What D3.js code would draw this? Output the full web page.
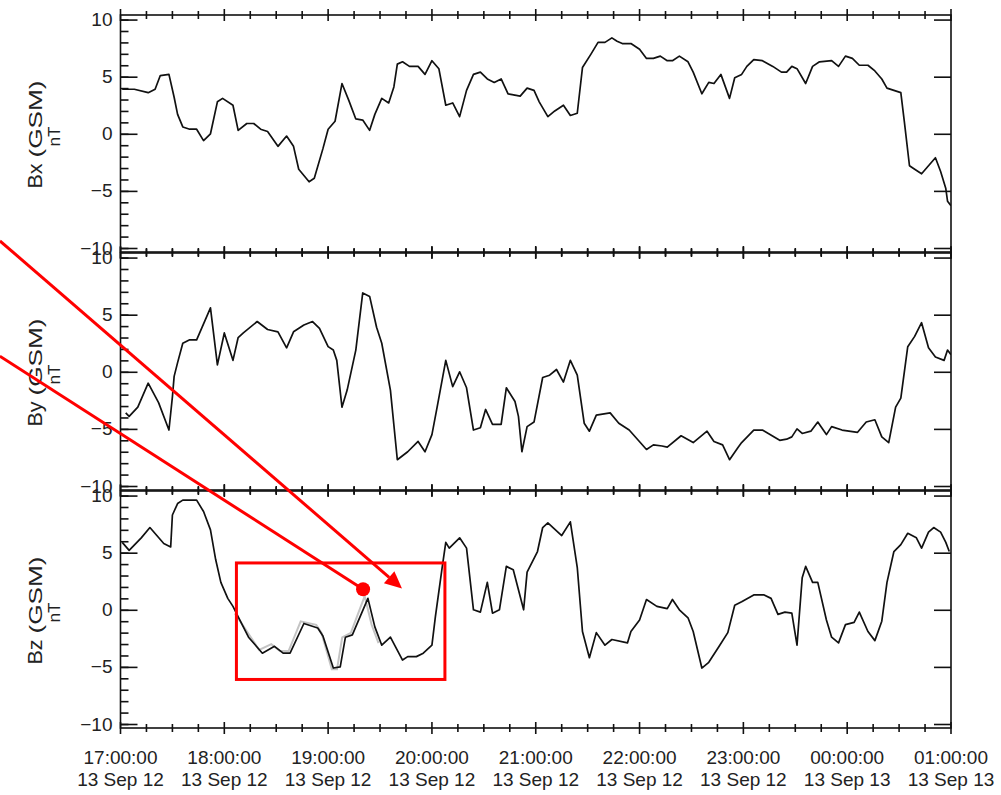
<!DOCTYPE html>
<html>
<head>
<meta charset="utf-8">
<script src="https://cdn.jsdelivr.net/npm/d3@7/dist/d3.min.js"></script>
<style>
  body { margin: 0; background: #fff; }
  svg { display: block; }
  text { font-family: "Liberation Sans", Arial, sans-serif; fill: #222; }
</style>
</head>
<body>
<div id="chart"></div>
<script>
// Minutes after 17:00:00 13 Sep 12, value in nT
const bx = [[1,3.9],[8,3.9],[16,3.6],[20,3.9],[23,5.1],[28,5.2],[31,3.2],[33,1.7],[36,0.6],[40,0.4],[44,0.4],[48,-0.6],[52,0.0],[56,2.8],[59,3.1],[65,2.5],[68,0.3],[73,0.9],[77,0.9],[81,0.4],[85,0.2],[91,-1.1],[96,-0.2],[100,-1.1],[103,-3.1],[109,-4.2],[112,-3.9],[117,-1.3],[120,0.4],[124,1.1],[128,4.4],[132,2.9],[136,1.3],[140,1.2],[144,0.3],[147,1.7],[151,3.1],[155,2.7],[158,4.1],[160,6.1],[163,6.3],[167,5.9],[172,5.9],[176,5.2],[180,6.4],[184,5.7],[188,2.5],[192,2.7],[196,1.5],[200,3.8],[204,5.2],[208,5.4],[212,4.8],[216,4.5],[220,4.8],[224,3.5],[231,3.3],[235,4.0],[239,3.8],[242,2.8],[247,1.5],[251,2.0],[256,2.5],[260,1.6],[264,1.8],[267,5.8],[272,7.0],[276,8.0],[280,8.0],[284,8.4],[287,8.1],[290,7.9],[295,7.9],[300,7.4],[304,6.6],[308,6.6],[312,6.8],[316,6.4],[319,6.4],[323,6.8],[328,6.3],[331,5.4],[336,3.5],[340,4.5],[343,4.4],[347,5.2],[352,3.1],[355,4.9],[359,5.2],[362,5.9],[366,6.5],[371,6.4],[377,5.9],[382,5.4],[385,5.4],[388,5.9],[391,5.7],[396,4.4],[400,5.9],[404,6.3],[411,6.4],[415,5.9],[419,6.8],[423,6.6],[427,6.0],[432,6.0],[436,5.5],[440,4.8],[443,4.0],[447,3.8],[451,3.6],[453,1.1],[456,-2.8],[459,-3.1],[463,-3.5],[467,-2.8],[471,-2.1],[474,-3.3],[477,-4.8],[478,-5.9],[480,-6.3]];

const by = [[3,-3.6],[5,-3.9],[10,-3.1],[16,-1.0],[22,-2.7],[28,-5.1],[30,-2.2],[31,-0.4],[33,0.8],[36,2.5],[40,2.8],[44,2.8],[52,5.6],[56,0.6],[60,3.4],[65,1.0],[68,3.0],[71,3.4],[79,4.4],[85,3.7],[91,3.5],[96,2.1],[100,3.5],[106,4.1],[111,4.4],[115,3.8],[120,2.2],[123,1.9],[125,1.0],[128,-3.1],[131,-1.6],[136,1.9],[140,6.9],[144,6.6],[148,3.9],[151,2.5],[156,-1.6],[160,-7.7],[166,-7.0],[172,-6.1],[176,-7.0],[180,-5.5],[183,-3.1],[188,1.0],[192,-1.3],[196,0.0],[200,-1.4],[204,-5.1],[208,-4.9],[211,-3.3],[215,-4.6],[220,-4.6],[223,-1.4],[228,-2.6],[230,-3.9],[232,-7.0],[235,-4.8],[239,-4.4],[244,-0.5],[248,-0.3],[252,0.2],[256,-0.9],[260,1.0],[264,-0.3],[268,-4.5],[271,-5.2],[275,-3.8],[283,-3.6],[288,-4.5],[294,-5.1],[304,-6.8],[308,-6.4],[313,-6.5],[316,-6.6],[324,-5.6],[331,-6.2],[339,-5.2],[343,-6.1],[348,-6.4],[352,-7.7],[357,-6.6],[359,-6.2],[366,-5.1],[371,-5.1],[381,-6.0],[385,-5.9],[388,-5.7],[391,-5.0],[394,-5.4],[399,-5.2],[403,-4.4],[408,-5.5],[411,-4.8],[417,-5.1],[426,-5.3],[431,-4.4],[436,-4.2],[440,-5.7],[444,-6.2],[448,-3.1],[451,-2.3],[455,2.2],[459,3.1],[463,4.3],[467,2.1],[471,1.3],[476,1.0],[478,1.9],[480,1.5]];

const bz = [[1,5.9],[5,5.2],[12,6.3],[17,7.2],[21,6.5],[25,5.8],[29,5.5],[30,8.3],[33,9.3],[36,9.6],[44,9.6],[48,8.6],[52,7.0],[55,4.4],[58,2.4],[62,1.0],[65,0.3],[69,-0.9],[74,-2.4],[82,-3.8],[89,-3.2],[94,-3.8],[98,-3.8],[106,-1.2],[114,-1.6],[117,-2.3],[123,-5.1],[127,-5.0],[130,-2.4],[134,-2.2],[143,1.0],[147,-1.5],[151,-3.1],[156,-2.4],[163,-4.4],[166,-4.1],[171,-4.1],[175,-3.8],[180,-3.1],[182,-0.6],[186,3.8],[188,5.9],[190,5.4],[196,6.3],[200,5.4],[204,0.0],[208,-0.2],[212,2.4],[215,-0.3],[219,0.0],[223,3.8],[227,3.5],[233,0.0],[235,3.3],[241,5.1],[244,7.2],[247,7.6],[255,6.5],[260,7.7],[264,3.7],[267,-1.9],[271,-4.2],[275,-2.0],[280,-3.1],[284,-2.6],[293,-2.9],[295,-1.9],[300,-0.9],[304,0.9],[310,0.3],[316,0.1],[319,0.9],[323,0.0],[328,-0.7],[331,-1.9],[336,-5.1],[340,-4.6],[346,-3.2],[351,-2.0],[355,0.4],[359,0.7],[366,1.3],[372,1.3],[376,1.0],[380,-0.4],[384,-0.2],[388,-0.3],[391,-3.1],[394,2.8],[396,3.8],[400,2.4],[403,2.4],[408,-0.9],[411,-2.4],[415,-2.9],[419,-1.3],[424,-1.1],[427,-0.2],[432,-1.9],[436,-2.7],[440,-1.0],[443,2.4],[447,5.1],[451,5.7],[455,6.7],[460,6.3],[463,5.4],[467,6.8],[470,7.2],[474,6.8],[477,5.9],[479,5.1]];

// faint grey trace under Bz inside the highlighted interval
const bzGrey = [[67,-0.4],[81,-3.6],[88,-3.1],[93,-3.7],[98,-3.7],[105,-1.1],[114,-1.4],[117,-2.1],[123,-5.3],[126,-5.3],[129,-2.5],[134,-2.1],[142,1.1],[146,-1.4],[150,-3.0]];

const panelNames = ["Bx", "By", "Bz"];
const panelSeries = [bx, by, bz];
const yTicks = [-10, -5, 0, 5, 10];
const yMinor = d3.range(-10, 11);
const timeLabels = ["17:00:00", "18:00:00", "19:00:00", "20:00:00", "21:00:00", "22:00:00", "23:00:00", "00:00:00", "01:00:00"];
const dateLabels = ["13 Sep 12", "13 Sep 12", "13 Sep 12", "13 Sep 12", "13 Sep 12", "13 Sep 12", "13 Sep 12", "13 Sep 13", "13 Sep 13"];

// annotation, in minutes / Bz nT of the bottom panel
const boxSpan = [67, 187.5];
const boxRange = [4.1, -6.1];
const dotPoint = [140.2, 1.8];
const arrowTip = [162.7, 1.87];
const lineStarts = [[-69.7, 32.3], [-69.7, 22.2]];

const width = 1001, height = 795;
const left = 120.5, right = 951;
const panelTops = [15, 253, 491], panelH = 237;

const t0 = new Date(2012, 8, 13, 17, 0, 0);
const t1 = new Date(2012, 8, 14, 1, 0, 0);
const at = m => new Date(t0.getTime() + m * 60000);

const x = d3.scaleTime().domain([t0, t1]).range([left, right]);

const svg = d3.select("#chart").append("svg")
    .attr("width", width)
    .attr("height", height);

const line = y => d3.line().x(d => x(at(d[0]))).y(d => y(d[1]));

const ticks15 = d3.timeMinute.every(15).range(t0, t1).concat([t1]);

let yBz;

panelNames.forEach((name, i) => {
    const top = panelTops[i];
    const y = d3.scaleLinear().domain([-10.35, 10.4]).range([top + panelH, top]);
    if (i === 2) yBz = y;
    const g = svg.append("g");

    // data line
    g.append("clipPath").attr("id", "clip" + i)
        .append("rect").attr("x", left).attr("y", top).attr("width", right - left).attr("height", panelH);

    if (i === 2) {
        g.append("path")
            .datum(bzGrey)
            .attr("clip-path", "url(#clip2)")
            .attr("d", line(y))
            .attr("fill", "none")
            .attr("stroke", "#c4c4c4")
            .attr("stroke-width", 2)
            .attr("transform", "translate(-1.5,-1)");
    }
    g.append("path")
        .datum(panelSeries[i])
        .attr("clip-path", "url(#clip" + i + ")")
        .attr("d", line(y))
        .attr("fill", "none")
        .attr("stroke", "#111")
        .attr("stroke-width", 1.7)
        .attr("stroke-linejoin", "round");

    // box
    g.append("rect")
        .attr("x", left).attr("y", top)
        .attr("width", right - left).attr("height", panelH)
        .attr("fill", "none").attr("stroke", "#111").attr("stroke-width", 1.6);

    // y ticks, inward on both sides
    const yAxisL = g.append("g").attr("transform", `translate(${left},0)`);
    yAxisL.call(d3.axisLeft(y).tickValues(yMinor).tickSize(-8).tickFormat(""));
    const yMajL = g.append("g").attr("transform", `translate(${left},0)`)
        .call(d3.axisLeft(y).tickValues(yTicks).tickSize(-17).tickPadding(8).tickFormat(d3.format("d")));
    const yAxisR = g.append("g").attr("transform", `translate(${right},0)`);
    yAxisR.call(d3.axisRight(y).tickValues(yMinor).tickSize(-8).tickFormat(""));
    yAxisR.call(d3.axisRight(y).tickValues(yTicks).tickSize(-17).tickFormat(""));
    g.selectAll(".domain").remove();
    g.selectAll(".tick line").attr("stroke", "#111").attr("stroke-width", 1.6);
    yMajL.selectAll("text").attr("font-size", 19).attr("fill", "#222")
        .style("font-family", "'Liberation Sans', Arial, sans-serif");

    // x ticks on top and bottom edges, across the line
    [top, top + panelH].forEach(ey => {
        g.selectAll(null).data(ticks15).enter().append("line")
            .attr("x1", d => x(d)).attr("x2", d => x(d))
            .attr("y1", d => ey - (d.getMinutes() === 0 ? 6 : 4))
            .attr("y2", d => ey + (d.getMinutes() === 0 ? 6 : 4))
            .attr("stroke", "#111").attr("stroke-width", 1.6);
    });

    // y title: "Bx (GSM)" with "nT" underneath, rotated
    const cy = top + panelH / 2;
    const tg = g.append("g").attr("transform", `translate(42,${cy}) rotate(-90)`);
    tg.append("text").attr("x", -55).attr("font-size", 20)
        .attr("textLength", 25).attr("lengthAdjust", "spacingAndGlyphs").text(name);
    tg.append("text").attr("x", -24).attr("font-size", 18)
        .attr("textLength", 77).attr("lengthAdjust", "spacingAndGlyphs").text("(GSM)");
    tg.append("text").attr("x", -13).attr("y", 18).attr("font-size", 16)
        .attr("textLength", 20).attr("lengthAdjust", "spacingAndGlyphs").text("nT");
});

// x tick labels under the bottom panel
const hours = d3.timeHour.every(1).range(t0, t1).concat([t1]);
const lab = svg.append("g").selectAll("text").data(hours).enter().append("text")
    .attr("x", d => x(d))
    .attr("text-anchor", "middle")
    .attr("font-size", 19);
lab.append("tspan").attr("x", d => x(d)).attr("y", 764).text((d, k) => timeLabels[k]);
lab.append("tspan").attr("x", d => x(d)).attr("y", 786).text((d, k) => dateLabels[k]);

// red annotation
const red = "#f00";
const ann = svg.append("g");
const px = p => [x(at(p[0])), yBz(p[1])];

ann.append("rect")
    .attr("x", x(at(boxSpan[0])))
    .attr("y", yBz(boxRange[0]))
    .attr("width", x(at(boxSpan[1])) - x(at(boxSpan[0])))
    .attr("height", yBz(boxRange[1]) - yBz(boxRange[0]))
    .attr("fill", "none").attr("stroke", red).attr("stroke-width", 3);

const dp = px(dotPoint), tp = px(arrowTip);
const s0 = px(lineStarts[0]), s1 = px(lineStarts[1]);

// arrow to the empty spot
const ang = Math.atan2(tp[1] - s0[1], tp[0] - s0[0]);
const headL = 17, headW = 8;
const base = [tp[0] - headL * Math.cos(ang), tp[1] - headL * Math.sin(ang)];
ann.append("line")
    .attr("x1", s0[0]).attr("y1", s0[1]).attr("x2", base[0]).attr("y2", base[1])
    .attr("stroke", red).attr("stroke-width", 3);
ann.append("path")
    .attr("d", d3.line()([
        tp,
        [base[0] + headW * Math.sin(ang), base[1] - headW * Math.cos(ang)],
        [base[0] - headW * Math.sin(ang), base[1] + headW * Math.cos(ang)]
    ]) + "Z")
    .attr("fill", red);

// line to the dot
ann.append("line")
    .attr("x1", s1[0]).attr("y1", s1[1]).attr("x2", dp[0]).attr("y2", dp[1])
    .attr("stroke", red).attr("stroke-width", 3);
ann.append("circle")
    .attr("cx", dp[0]).attr("cy", dp[1]).attr("r", 7)
    .attr("fill", red);
</script>
</body>
</html>
